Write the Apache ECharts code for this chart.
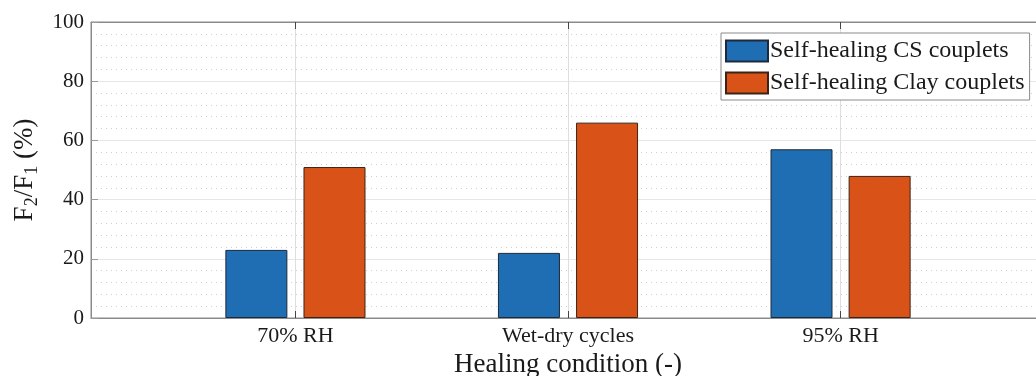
<!DOCTYPE html>
<html>
<head>
<meta charset="utf-8">
<script src="https://cdn.jsdelivr.net/npm/echarts@6/dist/echarts.min.js"></script>
<style>
  html, body { margin: 0; padding: 0; background: #fff; }
  #chart { width: 1036px; height: 376px; }
</style>
</head>
<body>
<div id="chart"></div>
<script>
// Healing conditions and recovered strength ratio F2/F1 (%)
const categories = ['70% RH', 'Wet-dry cycles', '95% RH'];
const csValues = [23, 22, 57];
const clayValues = [51, 66, 48];
const seriesNames = ['Self-healing CS couplets', 'Self-healing Clay couplets'];
const yTicks = [0, 20, 40, 60, 80, 100];

const FONT = 'Liberation Serif, Times New Roman, serif';
const positions = categories.map((_, i) => i + 1);
const toPoints = vals => vals.map((v, i) => [positions[i], v]);

const chart = echarts.init(document.getElementById('chart'), null, { renderer: 'canvas' });

const xBase = {
  type: 'value',
  min: 0.25,
  max: 3.75,
  axisLine: { show: true, lineStyle: { color: '#8a8a8a', width: 1 } },
  axisTick: { show: true, inside: true, length: 7, customValues: positions,
              lineStyle: { color: '#444', width: 1 } }
};

chart.setOption({
  animation: false,
  backgroundColor: '#fff',
  grid: {
    left: 91, top: 22, right: -9, bottom: 58,
    outerBoundsMode: 'none',
    containLabel: false,
    show: true, borderColor: '#8a8a8a', borderWidth: 1, backgroundColor: '#fff'
  },
  legend: {
    orient: 'vertical',
    left: 721, top: 33,
    padding: [6, 5, 5, 4],
    itemWidth: 42, itemHeight: 21, itemGap: 8,
    backgroundColor: '#fff',
    borderColor: '#8a8a8a', borderWidth: 1, borderRadius: 0,
    icon: 'rect',
    data: seriesNames,
    textStyle: { fontFamily: FONT, fontSize: 24, color: '#1a1a1a', padding: [0, 0, 0, -3] }
  },
  xAxis: [
    Object.assign({}, xBase, {
      position: 'bottom',
      name: 'Healing condition (-)',
      nameLocation: 'middle',
      nameGap: 27,
      nameTextStyle: { fontFamily: FONT, fontSize: 27, color: '#1a1a1a' },
      axisLabel: {
        customValues: positions,
        margin: 7,
        fontFamily: FONT, fontSize: 22, color: '#1a1a1a',
        formatter: v => categories[Math.round(v) - 1] || ''
      },
      splitLine: { show: true, lineStyle: { color: '#dedede', width: 1 } }
    }),
    Object.assign({}, xBase, {
      position: 'top',
      axisLabel: { show: false },
      splitLine: { show: false }
    })
  ],
  yAxis: {
    type: 'value',
    min: yTicks[0],
    max: yTicks[yTicks.length - 1],
    interval: 20,
    name: '{m|F}{s|2}{m|/F}{s|1}{m| (%)}',
    nameLocation: 'middle',
    nameGap: 44,
    nameTextStyle: {
      fontFamily: FONT, fontSize: 27, color: '#1a1a1a',
      rich: {
        m: { fontFamily: FONT, fontSize: 27, color: '#1a1a1a', lineHeight: 30, verticalAlign: 'top' },
        s: { fontFamily: FONT, fontSize: 18, color: '#1a1a1a', lineHeight: 18, verticalAlign: 'bottom', padding: [17, 0, 0, 0] }
      }
    },
    axisLine: { show: true, lineStyle: { color: '#8a8a8a', width: 1 } },
    axisTick: { show: true, inside: true, length: 7, lineStyle: { color: '#9a9a9a' } },
    axisLabel: { margin: 7, fontFamily: FONT, fontSize: 21, color: '#1a1a1a' },
    splitLine: { show: true, lineStyle: { color: '#e6e6e6', width: 1 } },
    minorTick: { show: false, splitNumber: 5 },
    minorSplitLine: { show: true, lineStyle: { color: '#cfcfcf', width: 1, type: [1, 4] } }
  },
  series: [
    {
      name: seriesNames[0],
      type: 'bar',
      xAxisIndex: 0,
      data: toPoints(csValues),
      barWidth: 62,
      barGap: '26%',
      itemStyle: { color: '#1f6db2', borderColor: '#1c2a3a', borderWidth: 1 }
    },
    {
      name: seriesNames[1],
      type: 'bar',
      xAxisIndex: 0,
      data: toPoints(clayValues),
      barWidth: 62,
      barGap: '26%',
      itemStyle: { color: '#d95319', borderColor: '#3a2418', borderWidth: 1 }
    }
  ]
});
</script>
</body>
</html>
